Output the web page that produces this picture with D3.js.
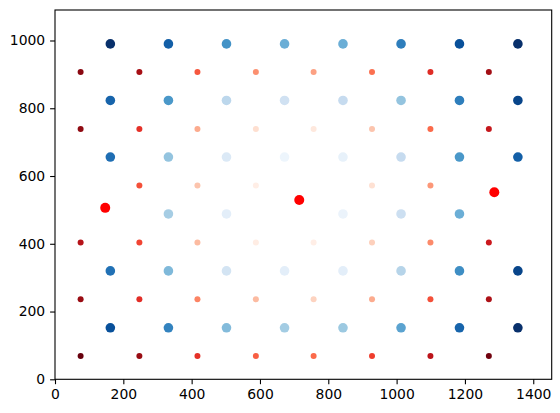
<!DOCTYPE html>
<html>
<head>
<meta charset="utf-8">
<script src="https://cdn.jsdelivr.net/npm/d3@7"></script>
<style>
  body { margin: 0; background: #fff; }
  svg { display: block; }
  .tick text { font-family: 'DejaVu Sans', sans-serif; font-size: 13.9px; fill: #000; }
</style>
</head>
<body>
<div id="chart"></div>
<script>
// grid positions
const blueX = [162, 332, 502, 672, 843, 1013, 1184, 1355]
const blueY = [990, 823, 656, 488, 320, 152]
const redX = [75, 247, 417, 588, 757, 928, 1099, 1270]
const redY = [907, 739, 572, 404, 236, 69]

// colour level (0..1) of each grid point, rows top to bottom
// null = point blends into the white background
const blueLevels = [
  [1.0, 0.82, 0.62, 0.5, 0.5, 0.7, 0.88, 1.0],
  [0.8, 0.6, 0.28, 0.2, 0.25, 0.4, 0.7, 0.92],
  [0.76, 0.4, 0.14, 0.05, 0.08, 0.25, 0.6, 0.82],
  [null, 0.35, 0.1, null, 0.06, 0.22, 0.5, null],
  [0.75, 0.45, 0.18, 0.1, 0.1, 0.3, 0.64, 0.92],
  [0.88, 0.68, 0.44, 0.36, 0.38, 0.55, 0.8, 1.0]
]
const redLevels = [
  [0.93, 0.87, 0.55, 0.38, 0.33, 0.48, 0.68, 0.88],
  [0.92, 0.66, 0.3, 0.13, 0.08, 0.22, 0.5, 0.77],
  [null, 0.57, 0.22, 0.04, null, 0.12, 0.36, null],
  [0.82, 0.6, 0.25, 0.05, 0.04, 0.18, 0.4, 0.75],
  [0.9, 0.67, 0.42, 0.25, 0.17, 0.3, 0.57, 0.85],
  [1.0, 0.9, 0.66, 0.53, 0.5, 0.62, 0.8, 0.98]
]

// the three big red markers
const centers = [
  { x: 147, y: 506 },
  { x: 715, y: 529 },
  { x: 1286, y: 552 }
]

const xTicks = [0, 200, 400, 600, 800, 1000, 1200, 1400]
const yTicks = [0, 200, 400, 600, 800, 1000]

const margin = { top: 10, left: 55, right: 8.3, bottom: 33.7 }
const width = 560 - margin.left - margin.right
const height = 413 - margin.top - margin.bottom

const svg = d3
  .select('#chart')
  .append('svg')
  .attr('width', 560)
  .attr('height', 413)
  .append('g')
  .attr('transform', `translate(${margin.left}, ${margin.top})`)

const xScale = d3.scaleLinear().domain([0, 1454]).range([0, width])
const yScale = d3.scaleLinear().domain([0, 1090]).range([height, 0])

// matplotlib Blues / Reds
const stops = d3.range(9).map(i => i / 8)
const blues = d3
  .scaleLinear()
  .domain(stops)
  .range(['#f7fbff', '#deebf7', '#c6dbef', '#9ecae1', '#6baed6', '#4292c6', '#2171b5', '#08519c', '#08306b'])
const reds = d3
  .scaleLinear()
  .domain(stops)
  .range(['#fff5f0', '#fee0d2', '#fcbba1', '#fc9272', '#fb6a4a', '#ef3b2c', '#cb181d', '#a50f15', '#67000d'])

function gridPoints(xs, ys, levels) {
  const out = []
  ys.forEach((y, r) => {
    xs.forEach((x, c) => {
      out.push({ x: x, y: y, v: levels[r][c] })
    })
  })
  return out.filter(d => d.v !== null)
}

const bluePoints = gridPoints(blueX, blueY, blueLevels)
const redPoints = gridPoints(redX, redY, redLevels)

svg
  .selectAll('.blue')
  .data(bluePoints)
  .enter()
  .append('circle')
  .attr('class', 'blue')
  .attr('cx', d => xScale(d.x))
  .attr('cy', d => yScale(d.y))
  .attr('r', 4.8)
  .attr('fill', d => blues(d.v))

svg
  .selectAll('.red')
  .data(redPoints)
  .enter()
  .append('circle')
  .attr('class', 'red')
  .attr('cx', d => xScale(d.x))
  .attr('cy', d => yScale(d.y))
  .attr('r', 3)
  .attr('fill', d => reds(d.v))

svg
  .selectAll('.center')
  .data(centers)
  .enter()
  .append('circle')
  .attr('class', 'center')
  .attr('cx', d => xScale(d.x))
  .attr('cy', d => yScale(d.y))
  .attr('r', 5)
  .attr('fill', '#ff0000')

// axes
const xAxis = d3
  .axisBottom(xScale)
  .tickValues(xTicks)
  .tickFormat(d3.format('d'))
  .tickSize(4.9)
  .tickPadding(4.9)
const yAxis = d3
  .axisLeft(yScale)
  .tickValues(yTicks)
  .tickFormat(d3.format('d'))
  .tickSize(4.9)
  .tickPadding(4.9)

svg
  .append('g')
  .attr('transform', `translate(0, ${height})`)
  .call(xAxis)
  .call(g => g.select('.domain').remove())
  .selectAll('line')
  .attr('stroke-width', 1.1)

svg
  .append('g')
  .call(yAxis)
  .call(g => g.select('.domain').remove())
  .selectAll('line')
  .attr('stroke-width', 1.1)

svg
  .append('rect')
  .attr('width', width)
  .attr('height', height)
  .attr('fill', 'none')
  .attr('stroke', '#000')
  .attr('stroke-width', 1.1)
</script>
</body>
</html>
